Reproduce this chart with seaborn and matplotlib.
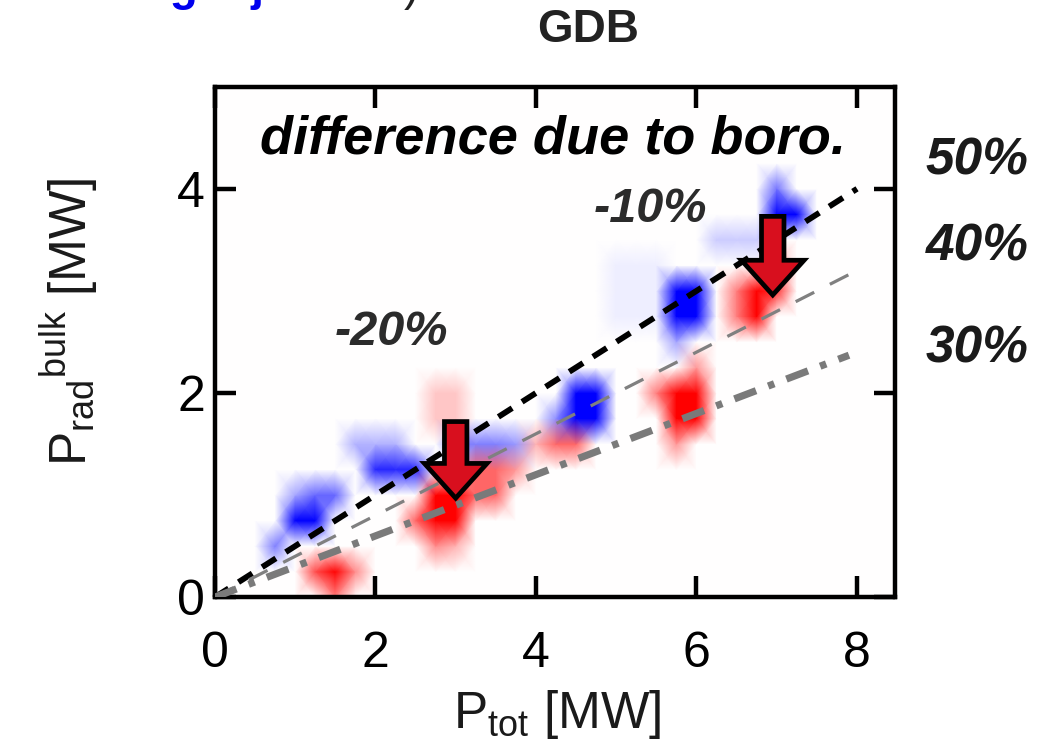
import numpy as np
import pandas as pd
import matplotlib
matplotlib.use("Agg")
import matplotlib.pyplot as plt
import seaborn as sns

# ---------------- data ----------------
# difference-map patches: centre (P_tot, P_rad) [MW], relative difference
# (<0 blue: lower with boronisation, >0 red), half extent of the patch in MW
blob_x = [7.125, 7.0, 6.5,
          5.875, 5.75, 5.25,
          4.625, 4.25,
          1.125, 1.25, 1.375, 2.25, 2.0, 3.25, 3.75, 0.75, 1.0, 1.75,
          6.75, 7.0, 6.5, 7.0,
          5.875, 5.5, 6.0, 5.75,
          4.375,
          2.875, 3.375, 2.5, 2.75, 3.0, 3.75, 4.0,
          1.5, 1.25, 1.75, 1.5,
          2.875]
blob_y = [3.75, 4.0, 3.5,
          2.875, 2.5, 3.0,
          1.875, 1.75,
          0.75, 1.0, 1.0, 1.25, 1.5, 1.5, 1.5, 0.5, 1.0, 1.0,
          2.875, 3.0, 2.875, 3.25,
          1.875, 2.0, 2.25, 1.5,
          1.5,
          0.875, 1.125, 0.75, 0.5, 0.5, 1.25, 1.5,
          0.25, 0.25, 0.25, 0.0,
          1.875]
blob_val = [-1.0, -0.55, -0.2,
            -1.0, -0.35, -0.07,
            -1.0, -0.45,
            -1.0, -0.7, -0.6, -0.85, -0.3, -0.5, -0.4, -0.5, -0.35, 0.0,
            1.0, 0.8, 0.5, 0.5,
            1.0, 0.5, 0.4, 0.4,
            0.6,
            1.0, 0.6, 0.6, 0.45, 0.3, 0.4, 0.3,
            1.0, 0.7, 0.45, 0.5,
            0.22]
blob_wx = [0.125, 0.0, 0.25,
           0.125, 0.0, 0.25,
           0.125, 0.0,
           0.125, 0.0, 0.125, 0.25, 0.25, 0.25, 0.0, 0.0, 0.0, 0.0,
           0.0, 0.0, 0.0, 0.0,
           0.125, 0.0, 0.0, 0.0,
           0.125,
           0.125, 0.125, 0.0, 0.0, 0.0, 0.0, 0.0,
           0.0, 0.0, 0.0, 0.0,
           0.125]
blob_wy = [0.0, 0.0, 0.0,
           0.125, 0.0, 0.25,
           0.125, 0.0,
           0.0, 0.0, 0.0, 0.0, 0.0, 0.0, 0.0, 0.0, 0.0, 0.0,
           0.125, 0.0, 0.125, 0.0,
           0.125, 0.0, 0.0, 0.0,
           0.0,
           0.125, 0.125, 0.0, 0.0, 0.0, 0.0, 0.0,
           0.0, 0.0, 0.0, 0.0,
           0.125]

# radiated-fraction reference lines
frac_labels = ["50%", "40%", "30%"]
frac_values = [0.5, 0.4, 0.3]
frac_xend = [8.0, 8.0, 7.9]
frac_label_y = [4.14, 3.30, 2.30]

# arrows: (x, y_start, y_end)
arrow_x = [3.0, 6.95]
arrow_y0 = [1.72, 3.73]
arrow_y1 = [0.97, 2.96]

# annotations
change_texts = ["-20%", "-10%"]
change_x = [2.2, 5.42]
change_y = [2.47, 3.67]

x_ticks = [0, 2, 4, 6, 8]
y_ticks = [0, 2, 4]

# ---------------- style ----------------
sns.set_theme(style="ticks")
plt.rcParams["font.family"] = ["Liberation Sans", "DejaVu Sans"]
plt.rcParams["mathtext.fontset"] = "custom"
plt.rcParams["mathtext.rm"] = "Liberation Sans"
plt.rcParams["mathtext.it"] = "Liberation Sans:italic"
plt.rcParams["mathtext.bf"] = "Liberation Sans:bold"

fig = plt.figure(figsize=(10.38, 7.54), dpi=100)
ax = fig.add_axes([0.207, 0.208, 0.655, 0.677])
ax.set_axisbelow(False)

# ---------------- difference field ----------------
step = 0.25
gx = np.arange(0, 8.51, step)
gy = np.arange(0, 5.01, step)
GX, GY = np.meshgrid(gx, gy)
C = np.zeros_like(GX)
for bx, by, bv, wx, wy in zip(blob_x, blob_y, blob_val, blob_wx, blob_wy):
    m = (np.abs(GX - bx) <= wx + 1e-6) & (np.abs(GY - by) <= wy + 1e-6)
    C[m] = bv
ax.pcolormesh(GX, GY, C, shading="gouraud", cmap="bwr", vmin=-1, vmax=1, zorder=1)

# ---------------- reference lines ----------------
line_styles = [
    dict(color="black", lw=4.2, dashes=(2.8, 2.0)),
    dict(color="#808080", lw=2.3, dashes=(6.5, 5.5)),
    dict(color="#7a7a7a", lw=5.2, dashes=(3.2, 1.8, 0.9, 1.8)),
]
for f, xe, st in zip(frac_values, frac_xend, line_styles):
    df = pd.DataFrame({"x": [0.0, xe], "y": [0.0, f * xe]})
    sns.lineplot(data=df, x="x", y="y", ax=ax, color=st["color"], lw=st["lw"], zorder=3)
    ax.lines[-1].set_dashes(st["dashes"])
    ax.lines[-1].set_dash_capstyle("butt")

# ---------------- arrows ----------------
for ax_x, y0, y1 in zip(arrow_x, arrow_y0, arrow_y1):
    ax.arrow(ax_x, y0, 0, y1 - y0, width=0.28, head_width=0.78, head_length=0.34,
             length_includes_head=True, fc="#d80f1e", ec="black", lw=3.4, zorder=5)

# ---------------- texts ----------------
ax.text(4.21, 4.35, "difference due to boro.", ha="center", va="baseline",
        fontsize=39, fontweight="bold", fontstyle="italic", color="black", zorder=6)
for t, x, y in zip(change_texts, change_x, change_y):
    ax.text(x, y, t, ha="center", va="baseline", fontsize=35, fontweight="bold",
            fontstyle="italic", color="#2b2b2b", zorder=6)
for lab, ly in zip(frac_labels, frac_label_y):
    ax.text(9.5, ly, lab, ha="center", va="baseline", fontsize=37, fontweight="bold",
            fontstyle="italic", color="#1a1a1a", clip_on=False)

fig.text(0.567, 0.960, "GDB", ha="center", va="center", fontsize=33,
         fontweight="bold", color="#222222")
fig.text(0.053, 1.0, "during injection", ha="left", va="baseline", fontsize=33,
         fontweight="bold", color="#0000ee")
fig.text(0.389, 1.0, ")", ha="left", va="baseline", fontsize=33, color="#222222")

# axis labels
fig.text(0.5365, 1 - 728 / 754, r"P$_{\rm tot}$ [MW]", ha="center", va="baseline",
         fontsize=37, color="#1a1a1a")
fig.text(0.066, 0.573, r"P$_{\rm rad}{}^{\rm bulk}$ [MW]", ha="center", va="center",
         rotation=90, fontsize=37, color="#1a1a1a")

# ---------------- axes ----------------
ax.set_xlim(0, 8.47)
ax.set_ylim(0, 5.0)
ax.set_xticks(x_ticks)
ax.set_yticks(y_ticks)
ax.set_xticklabels([str(v) for v in x_ticks])
ax.set_yticklabels([str(v) for v in y_ticks])
ax.tick_params(direction="in", bottom=True, left=True, top=True, right=True,
               length=15, width=3.2, labelsize=36, pad=7, colors="black")
ax.tick_params(axis="x", pad=24)
for s in ax.spines.values():
    s.set_visible(True)
    s.set_linewidth(3.2)
    s.set_color("black")
ax.set_xlabel("")
ax.set_ylabel("")
ax.grid(False)

fig.savefig("out.png", dpi=100)
